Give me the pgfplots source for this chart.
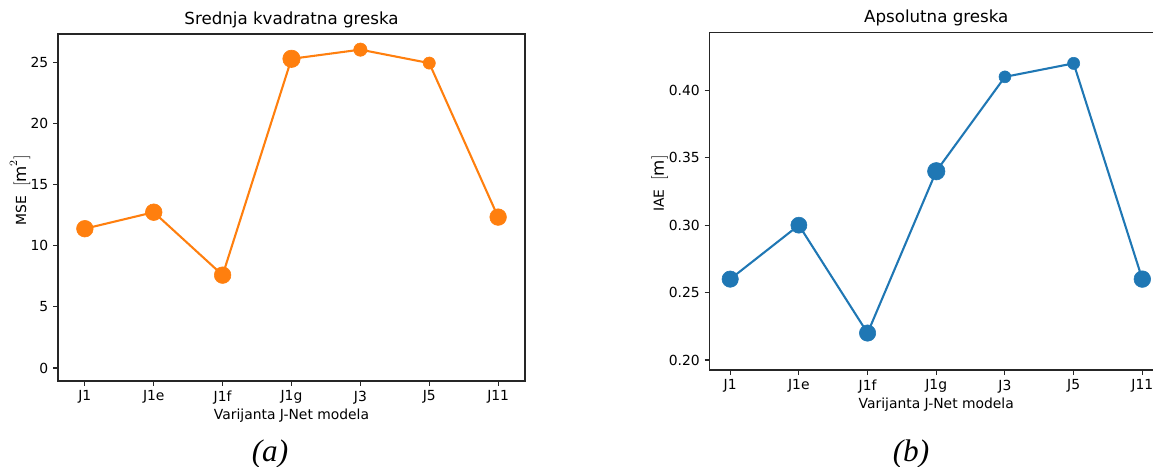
\documentclass[border=0pt]{standalone}
\usepackage{pgfplots}
\pgfplotsset{compat=1.18}
\usepackage{pgfplotstable}
\usepackage{fontspec}
\setmainfont{DejaVu Sans}
\newfontfamily\capfont{Liberation Serif}
\definecolor{mplorange}{HTML}{FF7F0E}
\definecolor{mplblue}{HTML}{1F77B4}

% x: model index, y: value, r: marker radius (pt)
\pgfplotstableread{
x y r
0 11.4 6.0
1 12.75 6.0
2 7.6 6.0
3 25.3 6.3
4 26.05 4.8
5 24.95 4.4
6 12.35 6.0
}\mse

\pgfplotstableread{
x y r
0 0.26 5.9
1 0.30 5.8
2 0.22 5.9
3 0.34 6.3
4 0.41 4.3
5 0.42 4.4
6 0.26 6.0
}\iae

\pgfplotsset{
  mpl/.style={
    scale only axis,
    axis line style={line width=0.8pt, black!85},
    tick style={line width=0.8pt, black!85},
    tick align=outside,
    major tick length=3.5pt,
    xtick pos=bottom, ytick pos=left,
    xtick={0,...,6},
    xticklabels={J1,J1e,J1f,J1g,J3,J5,J11},
    tick label style={font=\fontsize{10}{12}\selectfont},
    label style={font=\fontsize{10}{12}\selectfont},
    title style={font=\fontsize{12}{14}\selectfont, yshift=-5pt},
    xlabel style={yshift=3.6pt},
    /pgf/number format/assume math mode=true,
    xlabel={Varijanta J-Net modela},
  },
  dots/.style={
    only marks, mark=*, scatter,
    scatter/use mapped color={draw=#1, fill=#1},
    visualization depends on={\thisrow{r}\as\rr},
    scatter/@pre marker code/.append style={/tikz/mark size=\rr pt},
  },
}

\begin{document}
\begin{tikzpicture}
\begin{axis}[mpl,
  at={(41.76pt,61.2pt)}, anchor=south west,
  width=336.24pt, height=249.84pt,
  xmin=-0.39, xmax=6.39,
  ymin=-1.06, ymax=27.33,
  ytick={0,5,...,25},
  title={Srednja kvadratna greska},
  ylabel={MSE\ \ {\fontsize{12}{14}\selectfont$[\mathrm{m}^2]$}},
  ylabel style={at={(axis description cs:-0.081,0.55)}, anchor=center},
]
\addplot[mplorange, line width=1.5pt, no marks] table[x=x, y=y] {\mse};
\addplot[dots=mplorange] table[x=x, y=y] {\mse};
\end{axis}

\begin{axis}[mpl,
  at={(510.9pt,69.12pt)}, anchor=south west,
  width=326.4pt, height=243.1pt,
  xmin=-0.30, xmax=6.30,
  ymin=0.1926, ymax=0.443,
  ytick={0.20,0.25,0.30,0.35,0.40},
  yticklabel style={/pgf/number format/.cd, fixed, fixed zerofill, precision=2},
  title={Apsolutna greska},
  ylabel={IAE\ \ {\fontsize{12}{14}\selectfont$[\mathrm{m}]$}},
  ylabel style={at={(axis description cs:-0.11,0.552)}, anchor=center},
]
\addplot[mplblue, line width=1.5pt, no marks] table[x=x, y=y] {\iae};
\addplot[dots=mplblue] table[x=x, y=y] {\iae};
\end{axis}

\node[anchor=base, font=\capfont\itshape\fontsize{22.5}{26}\selectfont] at (194.4pt,3.6pt) {(a)};
\node[anchor=base, font=\capfont\itshape\fontsize{22.5}{26}\selectfont] at (655.9pt,3.6pt) {(b)};

\pgfresetboundingbox
\useasboundingbox (0,0) rectangle (830.16pt,335.52pt);
\end{tikzpicture}
\end{document}
